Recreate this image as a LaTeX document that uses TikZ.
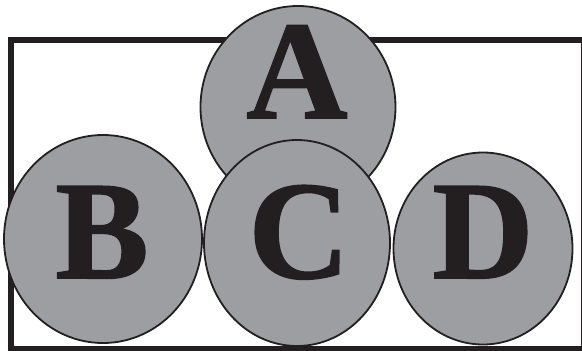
\documentclass[tikz,border=0pt]{standalone}
\usepackage{fontspec}
\usepackage{xcolor}
\usepackage{tikz}
\usetikzlibrary{shapes.geometric}
\newfontfamily\letterfont{Liberation Serif}[BoldFeatures={FakeBold=1.2}]
\definecolor{inkdark}{HTML}{231F20}
\definecolor{blobgray}{RGB}{157,158,162}

\begin{document}
\begin{tikzpicture}[x=1pt,y=-1pt,
  every node/.style={inner sep=0pt,outer sep=0pt},
  blob/.style={ellipse,draw=inkdark,line width=1.8pt,fill=blobgray},
  lett/.style={anchor=base,text=inkdark,font=\letterfont\bfseries\fontsize{140}{140}\selectfont}]
 \useasboundingbox (0,0) rectangle (582,351);
 % frame behind the discs
 \draw[inkdark,line width=5.2pt] (11,40) rectangle (584,348.5);
 \node[blob,minimum width=195pt,minimum height=202pt] (ea) at (298,107) {};
 \node[blob,minimum width=198pt,minimum height=208pt] (eb) at (103,239) {};
 \node[blob,minimum width=186pt,minimum height=206pt] (ec) at (297,243) {};
 \node[blob,minimum width=179pt,minimum height=192pt] (ed) at (483,248.5) {};
 % letters
 \node[lett] (la) at (297,118) {A};
 \node[lett] (lb) at (102,278) {B};
 \node[lett] (lc) at (299,278) {C};
 \node[lett] (ld) at (483,278) {D};
\end{tikzpicture}
\end{document}
